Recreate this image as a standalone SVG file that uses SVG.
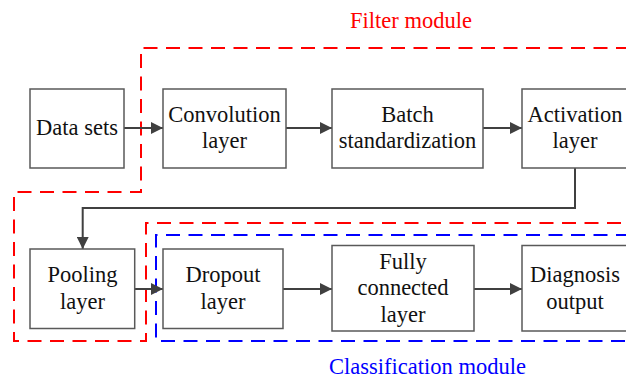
<svg xmlns="http://www.w3.org/2000/svg" width="626" height="379" viewBox="0 0 626 379">
<style>
.box{fill:#fff;stroke:#595959;stroke-width:1.5}
.t{font-family:'Liberation Serif','Times New Roman','DejaVu Serif',serif;font-size:22.5px;fill:#111;text-anchor:middle}
.conn{fill:none;stroke:#404040;stroke-width:2}
.red{fill:none;stroke:#ff0000;stroke-width:2;stroke-dasharray:14 8.5}
.blue{fill:none;stroke:#0000ff;stroke-width:2;stroke-dasharray:14 8.5}
</style>
<defs>
<marker id="ah" markerWidth="12" markerHeight="12" viewBox="0 0 12 12" refX="12" refY="6" orient="auto" markerUnits="userSpaceOnUse">
<path d="M0,0 L12,6 L0,12 Z" fill="#404040"/>
</marker>
</defs>
<g id="modules">
<path class="red" d="M630,48 L141,48 L141,192 L14,192 L14,341 L146,341 L146,223 L630,223"/>
<path class="blue" d="M630,235 L156,235 L156,341 L630,341"/>
<text x="411" y="28" class="t" style="fill:#ff0000">Filter module</text>
<text x="427.5" y="374" class="t" style="fill:#0000ff">Classification module</text>
</g>
<g id="connectors">
<line class="conn" x1="124" y1="128" x2="163" y2="128" marker-end="url(#ah)"/>
<line class="conn" x1="286" y1="128" x2="332" y2="128" marker-end="url(#ah)"/>
<line class="conn" x1="483" y1="128" x2="522" y2="128" marker-end="url(#ah)"/>
<path class="conn" d="M575,168 L575,208 L82.7,208 L82.7,249" marker-end="url(#ah)"/>
<line class="conn" x1="134.7" y1="289" x2="163" y2="289" marker-end="url(#ah)"/>
<line class="conn" x1="283" y1="289" x2="332" y2="289" marker-end="url(#ah)"/>
<line class="conn" x1="474" y1="289" x2="522" y2="289" marker-end="url(#ah)"/>
</g>
<g id="data-sets">
<rect class="box" x="30" y="89" width="94" height="79"/>
<text class="t" x="77" y="135">Data sets</text>
</g>
<g id="convolution">
<rect class="box" x="163" y="89" width="123" height="79"/>
<text class="t" x="224.5" y="122">Convolution</text>
<text class="t" x="224.5" y="148">layer</text>
</g>
<g id="batch">
<rect class="box" x="332" y="89" width="151" height="79"/>
<text class="t" x="407.5" y="122">Batch</text>
<text class="t" x="407.5" y="148">standardization</text>
</g>
<g id="activation">
<rect class="box" x="522" y="89" width="106" height="79"/>
<text class="t" x="575" y="122">Activation</text>
<text class="t" x="575" y="148">layer</text>
</g>
<g id="pooling">
<rect class="box" x="30" y="249" width="104.7" height="79.5"/>
<text class="t" x="82.5" y="282">Pooling</text>
<text class="t" x="82.5" y="308.5">layer</text>
</g>
<g id="dropout">
<rect class="box" x="163" y="249" width="120" height="79.5"/>
<text class="t" x="223" y="282">Dropout</text>
<text class="t" x="223" y="308.5">layer</text>
</g>
<g id="fully-connected">
<rect class="box" x="332" y="245.5" width="142" height="85.5"/>
<text class="t" x="403" y="268.5">Fully</text>
<text class="t" x="403" y="295">connected</text>
<text class="t" x="403" y="321.5">layer</text>
</g>
<g id="diagnosis">
<rect class="box" x="522" y="245.5" width="106" height="85.5"/>
<text class="t" x="575" y="282">Diagnosis</text>
<text class="t" x="575" y="308.5">output</text>
</g>
</svg>
